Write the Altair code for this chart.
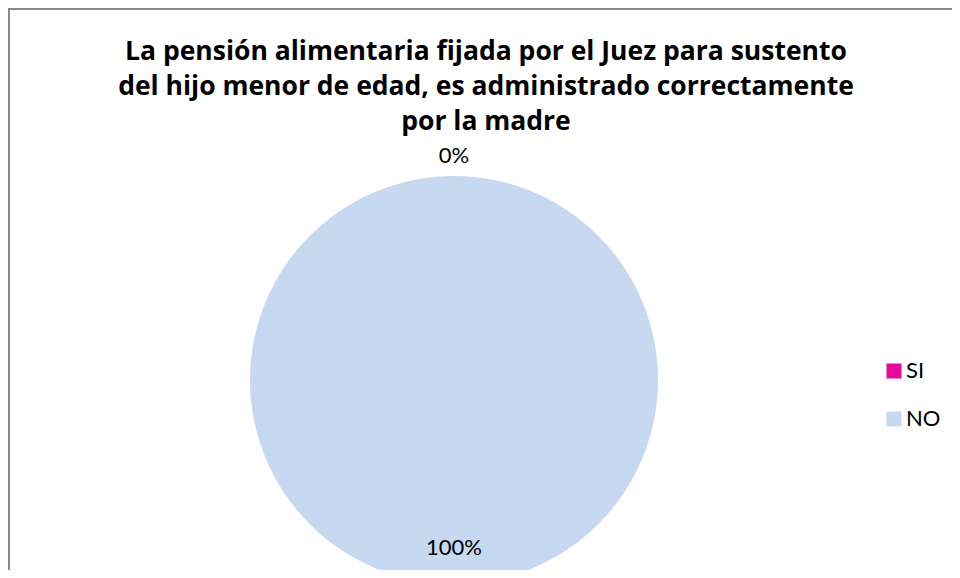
import altair as alt
import pandas as pd

categories = ["SI", "NO"]
percentages = [0, 100]
colors = ["#E5089A", "#C6D9F1"]
title_lines = [
    "La pensión alimentaria fijada por el Juez para sustento",
    "del hijo menor de edad, es administrado correctamente",
    "por la madre",
]

df = pd.DataFrame({"cat": categories, "value": percentages, "idx": list(range(len(categories)))})

W, H = 944, 562
CX, CY, R = 446, 372, 204
FONT = "Lato"
BORDER = "#888888"

base = alt.Chart(df)

pie = base.mark_arc(outerRadius=R).encode(
    theta=alt.Theta("value:Q", stack=True),
    color=alt.Color(
        "cat:N",
        scale=alt.Scale(domain=categories, range=colors),
        sort=categories,
        legend=alt.Legend(
            title=None,
            orient="none",
            legendX=875,
            legendY=352,
            symbolType="square",
            symbolSize=225,
            symbolStrokeWidth=0,
            labelFont=FONT,
            labelFontSize=22,
            labelColor="#000000",
            labelOffset=1,
            rowPadding=26,
            padding=0,
        ),
    ),
    order=alt.Order("idx:Q"),
    x=alt.value(CX),
    y=alt.value(CY),
)

labels = base.transform_calculate(
    lbl="datum.value + '%'",
    lr="datum.cat == 'SI' ? 224 : 168",
).mark_text(font=FONT, fontSize=22, color="#000000", align="center", baseline="middle").encode(
    theta=alt.Theta("value:Q", stack=True),
    radius=alt.Radius("lr:Q", scale=None),
    text="lbl:N",
    order=alt.Order("idx:Q"),
    x=alt.value(CX),
    y=alt.value(CY),
)

border = alt.Chart(pd.DataFrame({"k": [0]})).mark_rule(color=BORDER, strokeWidth=2)
left_border = border.encode(x=alt.value(1), y=alt.value(0), y2=alt.value(H))
top_border = border.encode(x=alt.value(0), x2=alt.value(W), y=alt.value(1), y2=alt.value(1))

chart = alt.layer(pie, labels, left_border, top_border).properties(
    width=W,
    height=H,
    autosize=alt.AutoSizeParams(type="none"),
    padding=0,
    title=alt.TitleParams(
        text=title_lines,
        font="Open Sans",
        fontSize=26.5,
        fontWeight="bold",
        color="#000000",
        anchor="start",
        frame="group",
        lineHeight=35,
        offset=0,
        dx=478,
        dy=128,
        align="center",
    ),
).configure_view(strokeWidth=0, strokeOpacity=0).configure(background="#FFFFFF")

chart.save("out.html", embed_options={"renderer": "svg", "actions": False})
